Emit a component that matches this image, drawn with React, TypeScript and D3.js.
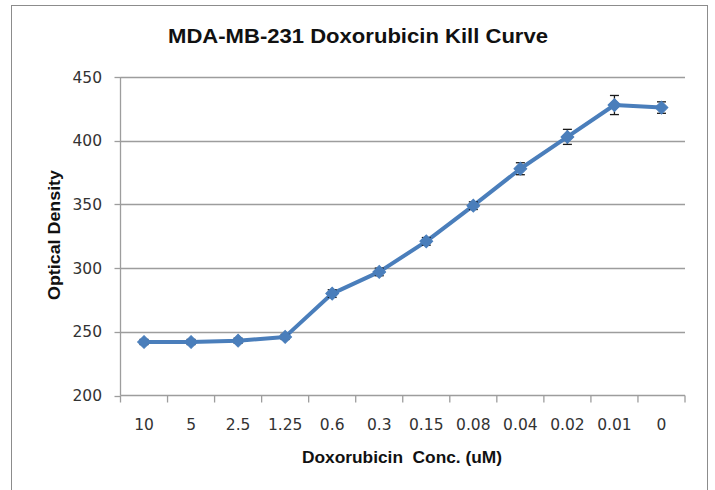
import React from 'react';
import * as d3 from 'd3';

// Kill curve readings
const concLabels = ['10', '5', '2.5', '1.25', '0.6', '0.3', '0.15', '0.08', '0.04', '0.02', '0.01', '0'];
const odValues = [242, 242, 243, 246, 280, 297, 321, 349, 378, 403, 428, 426];
const odErrors = [2, 2, 2, 2, 3, 3, 3, 3, 4.7, 5.9, 7.5, 4.5];
const yTicks = [200, 250, 300, 350, 400, 450];

const W = 715;
const H = 490;
const plot = { left: 120.5, right: 685, top: 77, bottom: 395.5 };

export default function App() {
  const x = d3.scaleBand<string>().domain(concLabels).range([plot.left, plot.right]);
  const y = d3.scaleLinear().domain([200, 450]).range([plot.bottom, plot.top]);
  const cx = (c: string) => (x(c) as number) + x.bandwidth() / 2;

  const line = d3.line<number>()
    .x((_, i) => cx(concLabels[i]))
    .y(d => y(d));

  const diamond = d3.symbol().type(d3.symbolSquare).size(82)();

  // band edges for x tick marks
  const xTickPos = concLabels.map(c => x(c) as number).concat([plot.right]);

  const tickFont = '"DejaVu Sans", Verdana, sans-serif';
  const boldFont = '"Liberation Sans", Arial, sans-serif';

  return (
    <svg width={W} height={H} style={{ position: 'absolute', left: 0, top: 0, background: '#fff' }}>
      <rect x={11.5} y={5.5} width={696} height={500} fill="#fff" stroke="#8c8c8c" strokeWidth={1} />

      <text x={358} y={43} textAnchor="middle" fontFamily={boldFont} fontWeight="bold" fontSize={21}
        textLength={380} lengthAdjust="spacingAndGlyphs" fill="#111">
        MDA-MB-231 Doxorubicin Kill Curve
      </text>

      {/* gridlines */}
      {yTicks.filter(t => t > 200).map(t => (
        <line key={'g' + t} x1={plot.left} x2={plot.right} y1={Math.round(y(t)) + 0.5} y2={Math.round(y(t)) + 0.5}
          stroke="#9d9d9d" strokeWidth={1.3} />
      ))}

      {/* y axis */}
      <line x1={plot.left} x2={plot.left} y1={plot.top} y2={plot.bottom} stroke="#9d9d9d" strokeWidth={1.3} />
      {yTicks.map(t => (
        <g key={'y' + t}>
          <line x1={plot.left - 6} x2={plot.left} y1={Math.round(y(t)) + 0.5} y2={Math.round(y(t)) + 0.5}
            stroke="#9d9d9d" strokeWidth={1.3} />
          <text x={102} y={y(t)} dy="0.36em" textAnchor="end" fontFamily={tickFont} fontSize={15.5} fill="#333">
            {t}
          </text>
        </g>
      ))}

      {/* x axis */}
      <line x1={plot.left} x2={plot.right} y1={plot.bottom} y2={plot.bottom} stroke="#9d9d9d" strokeWidth={1.3} />
      {xTickPos.map((p, i) => (
        <line key={'xt' + i} x1={p} x2={p} y1={plot.bottom} y2={plot.bottom + 7} stroke="#9d9d9d" strokeWidth={1.3} />
      ))}
      {concLabels.map(c => (
        <text key={'xl' + c} x={cx(c)} y={430} textAnchor="middle" fontFamily={tickFont} fontSize={15.5} fill="#333">
          {c}
        </text>
      ))}

      <text x={402} y={463} textAnchor="middle" fontFamily={boldFont} fontWeight="bold" fontSize={16}
        textLength={200} lengthAdjust="spacingAndGlyphs" fill="#111" style={{ whiteSpace: 'pre' }}>
        {'Doxorubicin  Conc. (uM)'}
      </text>
      <text transform={`translate(60,235) rotate(-90)`} textAnchor="middle" fontFamily={boldFont} fontWeight="bold"
        fontSize={16} textLength={130} lengthAdjust="spacingAndGlyphs" fill="#111">
        Optical Density
      </text>

      {/* series */}
      <path d={line(odValues) || ''} fill="none" stroke="#4a7ebb" strokeWidth={4} strokeLinejoin="round" />
      {odValues.map((v, i) => {
        const px = cx(concLabels[i]);
        const top = y(v + odErrors[i]);
        const bot = y(v - odErrors[i]);
        return (
          <g key={'e' + i} stroke="#1a1a1a" strokeWidth={1.3}>
            <line x1={px} x2={px} y1={top} y2={bot} />
            <line x1={px - 4.5} x2={px + 4.5} y1={top} y2={top} />
            <line x1={px - 4.5} x2={px + 4.5} y1={bot} y2={bot} />
          </g>
        );
      })}
      {odValues.map((v, i) => (
        <path key={'m' + i} d={diamond || ''} transform={`translate(${cx(concLabels[i])},${y(v)}) rotate(45)`}
          fill="#4a7ebb" stroke="#4a7ebb" strokeWidth={1} />
      ))}
    </svg>
  );
}
